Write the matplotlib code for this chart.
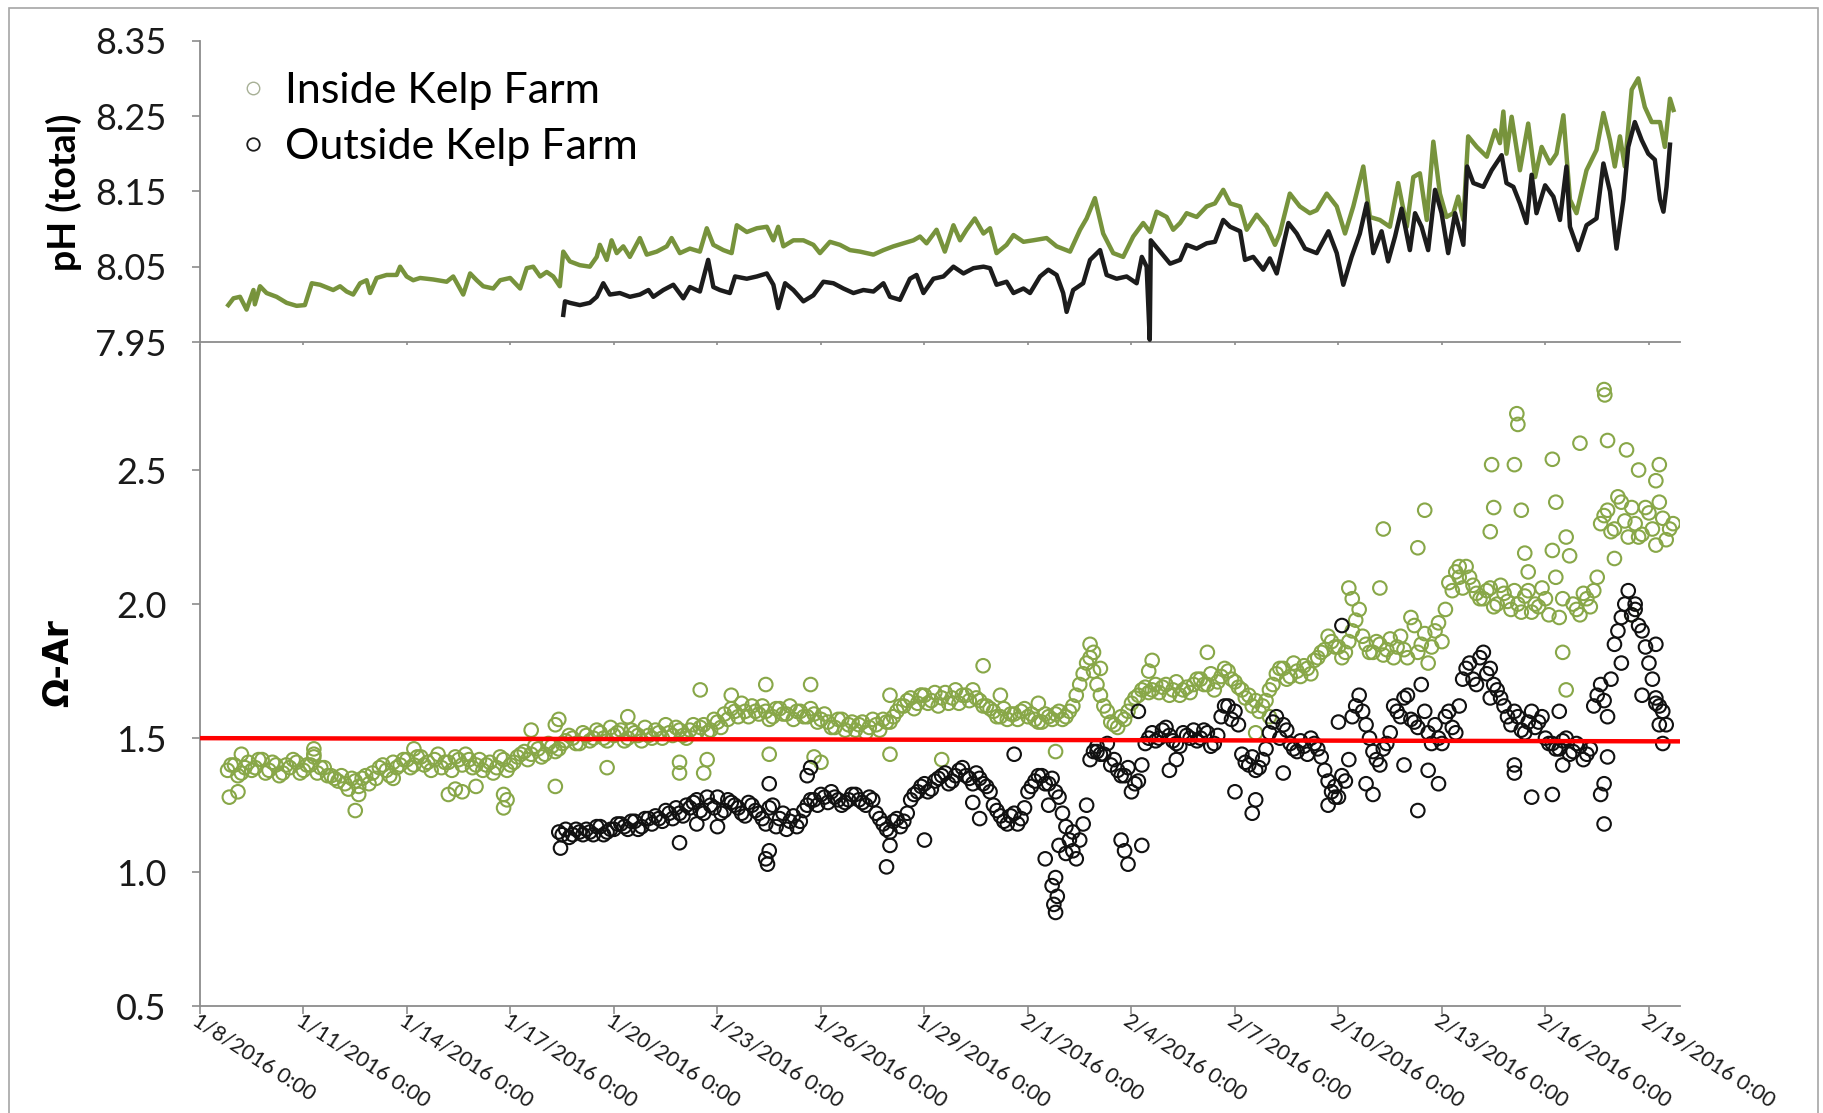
import numpy as np
import pandas as pd
import matplotlib
matplotlib.use("Agg")
import matplotlib.pyplot as plt
from matplotlib.lines import Line2D
from matplotlib.patches import Rectangle

plt.rcParams['font.family'] = ['Lato', 'DejaVu Sans']

START = pd.Timestamp('2016-01-08')

# pH (total); times are days after 1/8/2016 0:00
ph_in_day = [0.82, 0.97, 1.16, 1.35, 1.55, 1.59, 1.74, 1.93, 2.22, 2.51, 2.80, 3.04, 3.24, 3.48,
             3.86, 4.06, 4.25, 4.44, 4.64, 4.83, 4.93, 5.12, 5.41, 5.70, 5.80, 5.99, 6.18, 6.38,
             6.76, 7.15, 7.34, 7.63, 7.83, 8.02, 8.21, 8.50, 8.70, 8.99, 9.28, 9.47, 9.66, 9.86,
             10.05, 10.24, 10.43, 10.53, 10.72, 11.01, 11.30, 11.50, 11.59, 11.79, 11.93, 12.08,
             12.27, 12.46, 12.75, 12.95, 13.24, 13.53, 13.67, 13.91,
             14.20, 14.49, 14.69, 14.88, 15.17, 15.41, 15.56, 15.85, 16.14, 16.43, 16.62, 16.76,
             16.91, 17.20, 17.49, 17.78, 17.97, 18.26, 18.55, 18.84, 19.13, 19.52, 19.81, 20.10,
             20.39, 20.68, 20.87, 21.06, 21.35, 21.59, 21.84, 22.03, 22.22, 22.46, 22.71, 22.90,
             23.09, 23.38, 23.58, 23.87, 24.15, 24.54, 24.83, 25.22, 25.51, 25.70, 25.94, 26.18,
             26.47, 26.76, 27.05, 27.34, 27.54, 27.73, 28.02, 28.21,
             28.41, 28.60, 28.89, 29.18, 29.42, 29.66, 29.86, 30.15, 30.34, 30.63, 30.92, 31.16,
             31.30, 31.59, 31.88, 32.17, 32.37, 32.66, 32.95, 33.19, 33.43, 33.72, 33.91, 34.20,
             34.49, 34.73, 34.98, 35.17, 35.36, 35.56, 35.75, 35.94, 36.13, 36.33, 36.47, 36.62,
             36.76, 37.01, 37.30, 37.54, 37.68, 37.78, 37.87, 38.02, 38.26, 38.50, 38.70, 38.89,
             39.13, 39.32, 39.52, 39.71, 39.90, 40.19, 40.48, 40.68, 40.87, 41.01, 41.16, 41.30,
             41.50, 41.69, 41.88, 42.08, 42.32, 42.46, 42.61, 42.71]
ph_in = [7.999, 8.008, 8.010, 7.993, 8.019, 8.000, 8.024, 8.015, 8.010, 8.002, 7.998, 7.999, 8.028, 8.026,
         8.019, 8.024, 8.017, 8.013, 8.028, 8.032, 8.015, 8.035, 8.039, 8.039, 8.050, 8.037, 8.032, 8.035,
         8.033, 8.030, 8.037, 8.013, 8.041, 8.032, 8.024, 8.021, 8.032, 8.035, 8.021, 8.048, 8.050, 8.037,
         8.043, 8.037, 8.024, 8.070, 8.057, 8.052, 8.050, 8.063, 8.079, 8.059, 8.085, 8.068,
         8.077, 8.063, 8.088, 8.066, 8.070, 8.077, 8.088, 8.068,
         8.074, 8.070, 8.101, 8.079, 8.072, 8.068, 8.105, 8.096, 8.101, 8.103, 8.085, 8.103,
         8.077, 8.085, 8.085, 8.079, 8.068, 8.083, 8.079, 8.072, 8.070, 8.066, 8.072, 8.077,
         8.081, 8.085, 8.090, 8.081, 8.099, 8.070, 8.105, 8.085, 8.099, 8.114, 8.094, 8.101,
         8.068, 8.079, 8.092, 8.083, 8.085, 8.088, 8.077, 8.070, 8.099, 8.114, 8.141, 8.094,
         8.068, 8.063, 8.090, 8.108, 8.096, 8.123, 8.116, 8.099,
         8.108, 8.121, 8.116, 8.130, 8.134, 8.152, 8.134, 8.130, 8.099, 8.119, 8.103, 8.079,
         8.094, 8.147, 8.130, 8.121, 8.125, 8.147, 8.130, 8.094, 8.130, 8.183, 8.116, 8.112,
         8.103, 8.161, 8.103, 8.169, 8.174, 8.112, 8.216, 8.147, 8.116, 8.121, 8.143, 8.112,
         8.223, 8.209, 8.196, 8.231, 8.214, 8.256, 8.200, 8.249, 8.178, 8.240, 8.169, 8.209,
         8.187, 8.200, 8.251, 8.139, 8.121, 8.178, 8.205, 8.254, 8.218, 8.183, 8.223, 8.183,
         8.285, 8.300, 8.262, 8.242, 8.242, 8.209, 8.273, 8.258]

ph_out_day = [10.53, 10.58, 10.72, 11.01, 11.30, 11.50, 11.69, 11.88, 12.17, 12.46, 12.75, 13.00,
              13.14, 13.43, 13.72, 14.01, 14.20, 14.49, 14.73, 14.88, 15.07, 15.36, 15.51, 15.85,
              16.14, 16.43, 16.62, 16.76, 16.96, 17.20, 17.49, 17.78, 18.07, 18.36, 18.65, 18.94,
              19.23, 19.52, 19.81, 20.00, 20.29, 20.58, 20.77, 20.97, 21.26, 21.55, 21.84, 22.13,
              22.42, 22.71, 22.90, 23.09, 23.38, 23.58, 23.87, 24.06, 24.35, 24.59, 24.83, 25.02,
              25.12, 25.31, 25.60, 25.80, 26.09, 26.28, 26.57, 26.86, 27.15, 27.30, 27.44, 27.53,
              27.56, 27.83, 28.12, 28.41, 28.60, 28.89, 29.18, 29.42, 29.66, 29.86, 30.15, 30.29,
              30.53, 30.82, 31.01, 31.21, 31.55, 31.79, 32.03, 32.37, 32.71, 32.95, 33.14, 33.38,
              33.62, 33.82, 34.01, 34.25, 34.44, 34.64, 34.83, 35.07, 35.22, 35.41, 35.60, 35.80,
              35.99, 36.18, 36.38, 36.62, 36.73, 36.91, 37.20, 37.44, 37.73, 37.87, 38.07, 38.26,
              38.45, 38.60, 38.74, 38.99, 39.23, 39.42, 39.61, 39.71, 39.95, 40.19, 40.48, 40.68,
              40.87, 41.06, 41.26, 41.40, 41.59, 41.79, 41.98, 42.17, 42.32, 42.42, 42.51, 42.61]
ph_out = [7.986, 8.004, 8.002, 7.999, 8.002, 8.010, 8.028, 8.013, 8.015, 8.010, 8.013, 8.019,
          8.010, 8.019, 8.026, 8.008, 8.023, 8.017, 8.059, 8.023, 8.019, 8.015, 8.037, 8.034,
          8.037, 8.041, 8.026, 7.995, 8.028, 8.019, 8.004, 8.012, 8.030, 8.028, 8.021, 8.015,
          8.019, 8.017, 8.028, 8.010, 8.006, 8.034, 8.039, 8.015, 8.034, 8.037, 8.050, 8.041,
          8.048, 8.050, 8.048, 8.026, 8.030, 8.015, 8.021, 8.015, 8.037, 8.046, 8.039, 8.015,
          7.990, 8.019, 8.028, 8.059, 8.072, 8.039, 8.034, 8.037, 8.028, 8.063, 8.050, 7.953,
          8.085, 8.070, 8.054, 8.059, 8.079, 8.074, 8.081, 8.083, 8.112, 8.103, 8.097, 8.059,
          8.063, 8.046, 8.061, 8.041, 8.108, 8.094, 8.074, 8.068, 8.097, 8.068, 8.026, 8.063,
          8.094, 8.134, 8.068, 8.097, 8.057, 8.090, 8.127, 8.072, 8.121, 8.103, 8.072, 8.152,
          8.121, 8.068, 8.121, 8.079, 8.183, 8.161, 8.156, 8.178, 8.198, 8.161, 8.156, 8.134,
          8.108, 8.172, 8.121, 8.158, 8.143, 8.112, 8.183, 8.103, 8.072, 8.105, 8.114, 8.187,
          8.150, 8.074, 8.139, 8.209, 8.242, 8.218, 8.200, 8.192, 8.139, 8.123, 8.156, 8.212]

# Omega aragonite; two interleaved sets of readings, each one every 0.2 day
om_step = 0.2
om_in_start = 0.8
om_in = [1.38, 1.40, 1.37, 1.41, 1.39, 1.42, 1.38, 1.40, 1.37, 1.39, 1.41, 1.38, 1.40, 1.37, 1.39, 1.36,
         1.34, 1.33, 1.35, 1.32, 1.36,
         1.37, 1.39, 1.38, 1.41, 1.40,
         1.42, 1.40, 1.43, 1.41, 1.42, 1.39, 1.41, 1.43, 1.40, 1.42,
         1.40, 1.38, 1.41, 1.39, 1.42, 1.40,
         1.43, 1.45, 1.44, 1.46, 1.44, 1.47, 1.46,
         1.49, 1.50, 1.48, 1.51, 1.50, 1.52, 1.49, 1.51, 1.53, 1.50, 1.52, 1.49, 1.51, 1.53, 1.50,
         1.52, 1.54, 1.51, 1.53, 1.52,
         1.55, 1.53, 1.56,
         1.59, 1.61, 1.58, 1.60, 1.62, 1.59, 1.60, 1.58, 1.61, 1.59, 1.57, 1.60, 1.58, 1.59, 1.57,
         1.56, 1.54, 1.57, 1.55, 1.53, 1.56, 1.54, 1.55, 1.57, 1.56,
         1.60, 1.62, 1.65, 1.63, 1.66, 1.64, 1.62, 1.67, 1.65, 1.63, 1.66, 1.68, 1.64, 1.62,
         1.60, 1.58, 1.57, 1.59, 1.60, 1.58, 1.57, 1.56, 1.58, 1.59, 1.57, 1.60,
         1.66, 1.74, 1.80, 1.70, 1.62,
         1.56, 1.54, 1.57,
         1.63, 1.66, 1.69, 1.68, 1.67, 1.70, 1.68, 1.66, 1.69, 1.70,
         1.72, 1.70, 1.68, 1.73, 1.75, 1.71, 1.68, 1.66, 1.64,
         1.62, 1.68,
         1.74, 1.76, 1.73, 1.75, 1.77, 1.74,
         1.80, 1.83, 1.86, 1.84, 1.82,
         1.90, 1.98, 1.85,
         1.82, 1.85, 1.83, 1.80,
         1.88, 1.80, 1.92, 1.85, 1.78, 1.90, 1.86,
         2.08, 2.12, 2.06, 2.10, 2.04,
         2.02, 2.06, 2.00, 2.04, 1.98,
         2.00, 2.03, 1.97, 1.99, 2.02,
         2.20, 1.95, 2.25,
         2.00, 1.96, 2.02, 2.05,
         2.30, 2.35, 2.28, 2.38, 2.25,
         2.30, 2.26, 2.34, 2.22, 2.32, 2.28]
om_in_b = [1.40, 1.36, 1.39, 1.38, 1.42, 1.37, 1.41, 1.36, 1.40, 1.42, 1.37, 1.40, 1.43, 1.39, 1.36, 1.35,
           1.36, 1.31, 1.34, 1.35, 1.33,
           1.35, 1.40, 1.36, 1.39, 1.42,
           1.39, 1.43, 1.40, 1.38, 1.44, 1.41, 1.38, 1.42, 1.44, 1.39,
           1.42, 1.40, 1.37, 1.43, 1.38, 1.41,
           1.44, 1.42, 1.47, 1.43, 1.48, 1.45, 1.48,
           1.51, 1.48, 1.52, 1.49, 1.53, 1.50, 1.54, 1.52, 1.49, 1.53, 1.51, 1.54, 1.50, 1.52, 1.55,
           1.51, 1.53, 1.50, 1.55, 1.54,
           1.52, 1.57, 1.54,
           1.57, 1.60, 1.63, 1.58, 1.60, 1.62, 1.57, 1.61, 1.59, 1.62, 1.60, 1.58, 1.61, 1.56, 1.59,
           1.54, 1.57, 1.53, 1.56, 1.55, 1.52, 1.57, 1.53, 1.56, 1.58,
           1.62, 1.64, 1.61, 1.66, 1.63, 1.67, 1.65, 1.63, 1.68, 1.66, 1.64, 1.65, 1.62, 1.61,
           1.58, 1.61, 1.59, 1.57, 1.61, 1.59, 1.56, 1.59, 1.57, 1.60, 1.58, 1.62,
           1.70, 1.78, 1.75, 1.66, 1.60,
           1.55, 1.58, 1.60,
           1.65, 1.68, 1.67, 1.70, 1.69, 1.66, 1.71, 1.68, 1.67, 1.72,
           1.70, 1.74, 1.71, 1.76, 1.72, 1.69, 1.65, 1.62, 1.60,
           1.64, 1.70,
           1.76, 1.72, 1.78, 1.73, 1.76, 1.79,
           1.82, 1.88, 1.84, 1.80, 1.86,
           1.94, 1.88, 1.82,
           1.86, 1.81, 1.87, 1.84,
           1.83, 1.95, 1.82, 1.89, 1.84, 1.93, 1.98,
           2.05, 2.10, 2.14, 2.07, 2.02,
           2.05, 1.99, 2.07, 2.01, 2.05,
           1.97, 2.05, 2.00, 2.06, 1.96,
           2.10, 2.02, 2.18,
           1.98, 2.04, 1.99, 2.10,
           2.33, 2.27, 2.40, 2.31, 2.36,
           2.25, 2.36, 2.28, 2.38, 2.24, 2.30]
om_out_start = 10.4
om_out = [1.15, 1.16, 1.14, 1.15,
          1.16, 1.14, 1.17, 1.15, 1.16,
          1.18, 1.16, 1.19, 1.17, 1.20,
          1.21, 1.19, 1.22, 1.24, 1.21,
          1.24, 1.27, 1.22, 1.25, 1.28, 1.23, 1.26, 1.24, 1.21, 1.25,
          1.22, 1.18, 1.25, 1.20, 1.16, 1.21, 1.19,
          1.25, 1.27, 1.29, 1.26, 1.28, 1.25, 1.27, 1.29, 1.26, 1.28,
          1.22, 1.18, 1.15, 1.20, 1.19,
          1.27, 1.30, 1.33, 1.31, 1.35, 1.37, 1.34, 1.38, 1.36, 1.33, 1.35, 1.32,
          1.25, 1.21, 1.18, 1.22, 1.20,
          1.30, 1.34, 1.36, 1.33, 1.30,
          1.22, 1.12, 1.05, 1.18,
          1.42, 1.47, 1.44, 1.40, 1.38, 1.36,
          1.30, 1.34,
          1.48, 1.52, 1.50, 1.54, 1.49, 1.47, 1.51, 1.53,
          1.50, 1.52, 1.48,
          1.58, 1.62, 1.60,
          1.44, 1.40, 1.38, 1.42,
          1.52, 1.58, 1.55,
          1.48, 1.45, 1.47, 1.50, 1.46,
          1.38, 1.30, 1.28, 1.34,
          1.58, 1.66, 1.55,
          1.45, 1.40, 1.48,
          1.62, 1.58, 1.66, 1.56,
          1.70, 1.52,
          1.55, 1.48, 1.60, 1.52,
          1.72, 1.78, 1.70, 1.82, 1.76, 1.68,
          1.62, 1.55, 1.58, 1.52, 1.60, 1.56, 1.50,
          1.48, 1.46, 1.50, 1.45, 1.47, 1.44,
          1.62, 1.70, 1.58,
          1.85, 1.95, 2.05, 1.98, 1.90,
          1.78, 1.65, 1.60]
om_out_b = [1.14, 1.13, 1.16, 1.14,
            1.15, 1.17, 1.14, 1.16, 1.18,
            1.17, 1.19, 1.16, 1.20, 1.18,
            1.20, 1.23, 1.20, 1.22, 1.25,
            1.26, 1.23, 1.28, 1.24, 1.22, 1.27, 1.25, 1.22, 1.26, 1.23,
            1.20, 1.24, 1.17, 1.22, 1.19, 1.17, 1.23,
            1.27, 1.25, 1.28, 1.30, 1.27, 1.26, 1.29, 1.27, 1.25, 1.27,
            1.20, 1.16, 1.19, 1.17, 1.22,
            1.29, 1.32, 1.30, 1.34, 1.36, 1.33, 1.36, 1.39, 1.35, 1.37, 1.33, 1.30,
            1.23, 1.19, 1.21, 1.18, 1.24,
            1.32, 1.36, 1.33, 1.35, 1.28,
            1.17, 1.08, 1.12, 1.25,
            1.45, 1.44, 1.48, 1.42, 1.36, 1.39,
            1.33, 1.40,
            1.50, 1.49, 1.53, 1.51, 1.48, 1.52, 1.50, 1.49,
            1.53, 1.47, 1.51,
            1.62, 1.57, 1.55,
            1.41, 1.43, 1.39, 1.46,
            1.56, 1.50, 1.53,
            1.46, 1.49, 1.44, 1.48, 1.43,
            1.34, 1.32, 1.36, 1.42,
            1.62, 1.60, 1.50,
            1.42, 1.46, 1.52,
            1.60, 1.65, 1.57, 1.54,
            1.60, 1.48,
            1.50, 1.58, 1.54, 1.62,
            1.76, 1.72, 1.80, 1.74, 1.70, 1.65,
            1.58, 1.60, 1.53, 1.56, 1.54, 1.58, 1.48,
            1.46, 1.49, 1.44, 1.48, 1.42, 1.46,
            1.66, 1.64, 1.72,
            1.90, 2.00, 1.96, 1.92, 1.84,
            1.72, 1.62, 1.55]

# scattered readings away from the main band
om_in_extra_day = [0.85, 1.1, 1.2, 3.3, 3.3, 4.5, 4.6, 5.6, 6.2, 7.2, 7.4, 7.6, 8.0, 8.8, 8.8, 8.9,
                   9.6, 10.3, 10.4, 10.3, 11.8, 12.4, 13.9, 13.9, 14.5, 14.6, 14.7, 15.4, 16.4, 16.5,
                   17.7, 17.8, 18.0, 20.0, 20.0, 20.9, 21.5, 22.7, 23.2, 24.3, 24.8, 25.8, 25.9, 26.1,
                   27.5, 27.6, 29.2, 30.6, 31.0, 33.3, 33.4, 34.3, 34.2, 35.5, 35.3, 36.5, 37.4, 37.44,
                   37.5, 38.1, 38.17, 38.2, 38.3, 38.4, 38.5, 39.2, 39.3, 39.5, 39.6, 40.0, 40.7, 40.72,
                   40.8, 41.35, 41.7, 42.3, 42.2, 41.0, 41.5]
om_in_extra = [1.28, 1.30, 1.44, 1.46, 1.44, 1.23, 1.29, 1.35, 1.46, 1.29, 1.31, 1.30, 1.32, 1.24, 1.29, 1.27,
               1.53, 1.32, 1.57, 1.55, 1.39, 1.58, 1.37, 1.41, 1.68, 1.37, 1.42, 1.66, 1.70, 1.44,
               1.70, 1.43, 1.41, 1.66, 1.44, 1.66, 1.42, 1.77, 1.66, 1.63, 1.45, 1.85, 1.82, 1.76,
               1.75, 1.79, 1.82, 1.52, 1.58, 2.06, 2.02, 2.28, 2.06, 2.35, 2.21, 2.14, 2.27, 2.52,
               2.36, 2.52, 2.71, 2.67, 2.35, 2.19, 2.12, 2.54, 2.38, 1.82, 1.68, 2.60, 2.80, 2.78,
               2.61, 2.575, 2.50, 2.52, 2.46, 2.17, 1.96]
om_out_extra_day = [10.45, 13.9, 14.4, 15.0, 16.4, 16.45, 16.5, 16.5, 17.6, 17.7, 19.9, 20.0, 21.0,
                    22.4, 22.6, 23.6, 24.5, 24.6, 24.7, 24.75, 24.8, 24.85, 24.8, 24.9, 25.1, 25.3,
                    26.0, 26.7, 26.8, 26.9, 27.3, 27.2, 28.1, 28.3, 30.0, 30.5, 30.6, 31.4, 32.7, 32.9,
                    33.1, 33.0, 33.8, 34.0, 34.9, 35.3, 35.6, 35.9, 37.4, 38.1, 38.1, 38.6, 39.2, 39.4,
                    39.5, 40.6, 40.7, 40.7, 40.8, 41.2, 41.6, 41.8, 42.2, 42.3, 42.4, 42.2]
om_out_extra = [1.09, 1.11, 1.18, 1.17, 1.05, 1.03, 1.08, 1.33, 1.36, 1.39, 1.02, 1.10, 1.12,
                1.26, 1.20, 1.44, 1.05, 1.25, 0.95, 0.88, 0.85, 0.91, 0.98, 1.10, 1.07, 1.15,
                1.45, 1.12, 1.08, 1.03, 1.10, 1.60, 1.38, 1.42, 1.30, 1.22, 1.27, 1.37, 1.25, 1.28,
                1.92, 1.56, 1.33, 1.29, 1.40, 1.23, 1.38, 1.33, 1.65, 1.40, 1.37, 1.28, 1.29, 1.60,
                1.40, 1.29, 1.18, 1.33, 1.43, 1.78, 2.00, 1.66, 1.85, 1.55, 1.48, 1.63]

# saturation reference line
ref_day = [0.0, 42.9]
ref_level = [1.50, 1.488]

tick_days = list(range(0, 43, 3))
tick_dates = START + pd.to_timedelta(tick_days, unit='D')
tick_labels = [f"{d.month}/{d.day}/{d.year} 0:00" for d in tick_dates]

GREEN_LINE = '#77933C'
GREEN_PT = '#88a748'
AXIS_GREY = '#8c8c8c'

fig = plt.figure(figsize=(18.24, 11.13), dpi=100)
fig.patches.append(Rectangle((9 / 1824, -0.02), 1809 / 1824, 1.02 - 8 / 1113,
                             transform=fig.transFigure, fill=False,
                             edgecolor='#a6a6a6', linewidth=1.2))

ax1 = fig.add_axes([200 / 1824, 1 - 342 / 1113, 1480 / 1824, 301.3 / 1113])
ax2 = fig.add_axes([200 / 1824, 1 - 1006.3 / 1113, 1480 / 1824, 661.3 / 1113])


def style_axes(ax):
    for side in ('top', 'right'):
        ax.spines[side].set_visible(False)
    for side in ('left', 'bottom'):
        ax.spines[side].set_color(AXIS_GREY)
        ax.spines[side].set_linewidth(1.3)
    ax.tick_params(direction='out', length=6, width=1.2, color=AXIS_GREY,
                   labelsize=26, labelcolor='#1a1a1a')
    ax.tick_params(axis='y', pad=18)
    ax.tick_params(axis='x', pad=-3)
    ax.set_xlim(0, 42.9)
    ax.set_xticks(tick_days)


# top: pH lines
style_axes(ax1)
ax1.plot(ph_in_day, ph_in, color=GREEN_LINE, lw=3.2, zorder=2)
ax1.plot(ph_out_day, ph_out, color='#1c1c1c', lw=3.2, zorder=3)
ax1.set_ylim(7.95, 8.35)
ax1.set_yticks([7.95, 8.05, 8.15, 8.25, 8.35])
ax1.set_yticklabels(['7.95', '8.05', '8.15', '8.25', '8.35'])
ax1.set_xticklabels([])

handles = [Line2D([], [], ls='none', marker='o', ms=9, mfc='none', mec='#a7b096', mew=1.0),
           Line2D([], [], ls='none', marker='o', ms=9, mfc='none', mec='#1c1c1c', mew=1.3)]
ax1.legend(handles, ['Inside Kelp Farm', 'Outside Kelp Farm'], loc='upper left',
           bbox_to_anchor=(240 / 1824, 1 - 72 / 1113), bbox_transform=fig.transFigure,
           frameon=False, fontsize=31, handlelength=0.6, handletextpad=0.45,
           labelspacing=0.42, borderpad=0, borderaxespad=0)

# bottom: omega aragonite scatter
style_axes(ax2)
pt = dict(s=95, facecolors='none', linewidths=1.5)
om_in_day = om_in_start + om_step * np.arange(len(om_in))
om_in_b_day = om_in_start + om_step / 2 + om_step * np.arange(len(om_in_b))
om_out_day = om_out_start + om_step * np.arange(len(om_out))
om_out_b_day = om_out_start + om_step / 2 + om_step * np.arange(len(om_out_b))
ax2.scatter(om_in_day, om_in, edgecolors=GREEN_PT, zorder=2, **pt)
ax2.scatter(om_in_b_day, om_in_b, edgecolors=GREEN_PT, zorder=2, **pt)
ax2.scatter(om_in_extra_day, om_in_extra, edgecolors=GREEN_PT, zorder=2, **pt)
ax2.scatter(om_out_day, om_out, edgecolors='#111111', zorder=3, **pt)
ax2.scatter(om_out_b_day, om_out_b, edgecolors='#111111', zorder=3, **pt)
ax2.scatter(om_out_extra_day, om_out_extra, edgecolors='#111111', zorder=3, **pt)
ax2.plot(ref_day, ref_level, color='#ff0000', lw=3.2, zorder=4, solid_capstyle='butt')
ax2.set_ylim(0.5, 0.5 + 661.3 * 0.0037293)
ax2.set_yticks([0.5, 1.0, 1.5, 2.0, 2.5])
ax2.set_yticklabels(['0.5', '1.0', '1.5', '2.0', '2.5'])
ax2.set_xticklabels(tick_labels, rotation=-33, ha='left', va='top',
                    rotation_mode='anchor', fontsize=15.5)

fig.text(64 / 1824, 1 - 192 / 1113, 'pH (total)', rotation=90, ha='center', va='center',
         fontsize=27, fontweight='bold')
fig.text(58 / 1824, 1 - 663 / 1113, 'Ω-Ar', rotation=90, ha='center', va='center',
         fontsize=25, fontweight='bold', family=['DejaVu Sans'])

fig.savefig('out.png', dpi=100)
